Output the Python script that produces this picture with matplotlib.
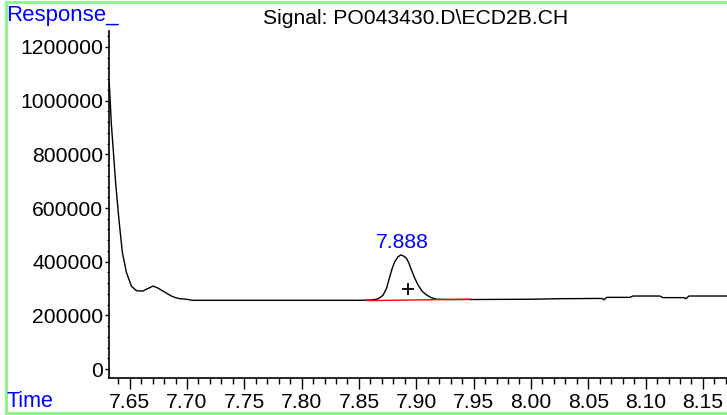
import matplotlib
matplotlib.use("Agg")
import matplotlib.pyplot as plt
from matplotlib.ticker import MultipleLocator, FixedLocator
from matplotlib.lines import Line2D

plt.rcParams['font.family'] = ['Liberation Sans', 'DejaVu Sans']

# ---- data ----
time = [7.6320, 7.6325, 7.6340, 7.6378, 7.6407, 7.6436, 7.6471, 7.6515, 7.6558,
        7.6611, 7.6660, 7.6703, 7.6740, 7.6777, 7.6820, 7.6864, 7.6900, 7.6936,
        7.6970, 7.7009, 7.7050, 7.7500, 7.8000, 7.8500, 7.8600, 7.8653, 7.8680,
        7.8710, 7.8740, 7.8769, 7.8790, 7.8812, 7.8840, 7.8865, 7.8890, 7.8915,
        7.8935, 7.8958, 7.8985, 7.9016, 7.9050, 7.9089, 7.9130, 7.9176, 7.9300,
        7.9500, 8.0000, 8.0250, 8.0619, 8.0636, 8.0662, 8.0863, 8.0889, 8.1125,
        8.1151, 8.1334, 8.1352, 8.1378, 8.1710]
response = [1070000, 1046000, 916000, 693000, 555000, 436000, 361000, 309000, 292000,
            290000, 300000, 309000, 303000, 294000, 283000, 272000, 266000, 262000,
            261000, 259000, 256000, 256000, 256000, 256000, 257000, 260000, 265000,
            275000, 300000, 344000, 375000, 400000, 418000, 425000, 421000, 412000,
            395000, 369000, 340000, 313000, 290000, 276000, 266000, 260000, 259000,
            259000, 260000, 262000, 263000, 258000, 267000, 267000, 272000, 272000,
            266000, 266000, 262000, 272000, 272000]

baseline_t = [7.857, 7.947]
baseline_v = [255000, 260000]

peak_label = "7.888"
peak_label_pos = (7.8875, 470000)
marker_pos = (7.8929, 298000)

xticks = [7.65, 7.70, 7.75, 7.80, 7.85, 7.90, 7.95, 8.00, 8.05, 8.10, 8.15]
xticklabels = ["7.65", "7.70", "7.75", "7.80", "7.85", "7.90", "7.95", "8.00", "8.05", "8.10", "8.15"]
yticks = [0, 200000, 400000, 600000, 800000, 1000000, 1200000]
yticklabels = ["0", "200000", "400000", "600000", "800000", "1000000", "1200000"]

title = "Signal: PO043430.D\\ECD2B.CH"

# ---- figure ----
fig = plt.figure(figsize=(7.27, 4.15), dpi=100)
ax = fig.add_axes([109/727, 1-378/415, 1-109/727, (378-31)/415])

ax.plot(time, response, color='black', lw=1.0)
ax.plot(baseline_t, baseline_v, color='red', lw=1.0)
ax.plot([marker_pos[0]], [marker_pos[1]], marker='+', color='black', ms=9, mew=1.3)
ax.text(peak_label_pos[0], peak_label_pos[1], peak_label, color='blue',
        fontsize=15.2, ha='center', va='center')

ax.set_xlim(7.632, 8.171)
ax.set_ylim(-33500, 1259600)

for s in ['top', 'right']:
    ax.spines[s].set_visible(False)
for s in ['left', 'bottom']:
    ax.spines[s].set_linewidth(1.2)

ax.xaxis.set_major_locator(FixedLocator(xticks))
ax.set_xticklabels(xticklabels)
ax.xaxis.set_minor_locator(MultipleLocator(0.01))
ax.yaxis.set_major_locator(FixedLocator(yticks))
ax.set_yticklabels(yticklabels)
ax.yaxis.set_minor_locator(MultipleLocator(40000))

ax.tick_params(axis='x', which='major', length=8, width=1, pad=3, labelsize=15.2, direction='out')
ax.tick_params(axis='x', which='minor', length=4, width=1, direction='out')
ax.tick_params(axis='y', which='major', length=3, width=1, pad=1, labelsize=15.2, direction='out')
ax.tick_params(axis='y', which='minor', length=1.5, width=0.8, direction='out')

fig.text(6.5/727, 1-16/415, "Response_", color='blue', fontsize=16, ha='left', va='center')
fig.text(6.5/727, 1-401/415, "Time", color='blue', fontsize=15.5, ha='left', va='center')
fig.text(416/727, 1-18/415, title, color='black', fontsize=15.2, ha='center', va='center')

# green frame: open path (top, left, bottom) running off the right edge
x0, x1 = 5.5/727, 1.0
ytop, ybot = 1-2.5/415, 2.5/415
fig.add_artist(Line2D([x1, x0, x0, x1], [ytop, ytop, ybot, ybot], transform=fig.transFigure,
                      color='#8ff58f', lw=2.2, solid_joinstyle='miter', solid_capstyle='butt'))

fig.savefig("out.png", dpi=100)
